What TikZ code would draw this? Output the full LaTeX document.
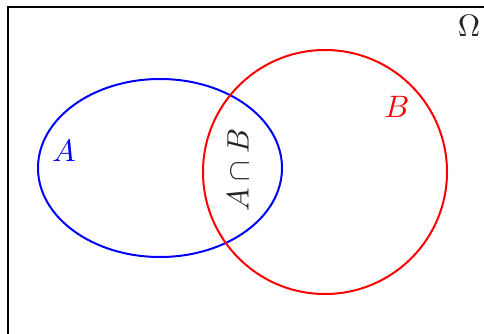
\documentclass[tikz,border=0pt]{standalone}
\begin{document}
\begin{tikzpicture}[x=1pt,y=-1pt,
  lbl/.style={scale=3.1, inner sep=0pt}]
\useasboundingbox (0,0) rectangle (484,334);
\clip (0,0) rectangle (484,334);
\draw[line width=2pt] (8,7) rectangle (520,360);
\node[lbl, text=black!85] (omega) at (469,26) {$\Omega$};
\draw[blue, line width=2pt] (160,168) ellipse [x radius=122, y radius=89];
\draw[red, line width=2pt] (325,172) circle [radius=122];
\node[lbl, text=blue] (a) at (64,151) {$A$};
\node[lbl, text=red] (b) at (397,107) {$B$};
\node[lbl, text=black!85, rotate=90] (ab) at (238,170) {$A\cap B$};
\end{tikzpicture}
\end{document}
